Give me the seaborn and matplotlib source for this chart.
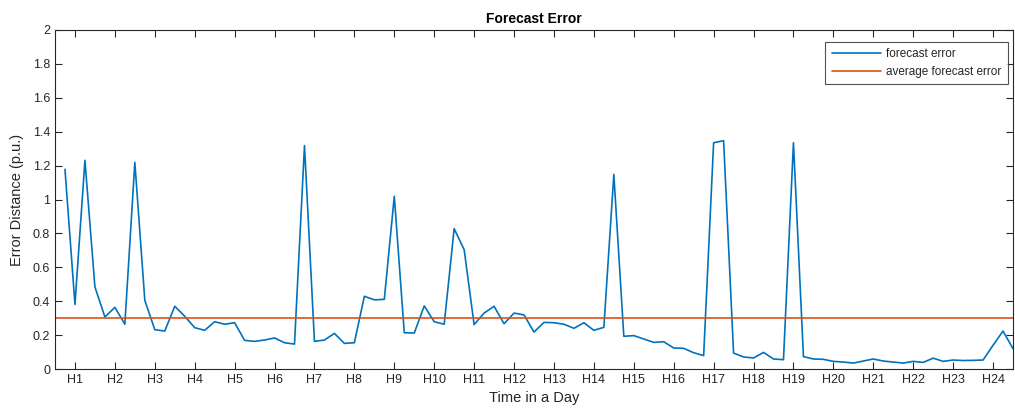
import numpy as np
import pandas as pd
import matplotlib
matplotlib.use("Agg")
import matplotlib.pyplot as plt
import seaborn as sns

# Quarter-hour forecast error over one day (x in hours, H1 = 1)
hours = np.arange(0.75, 24.5 + 0.001, 0.25)
forecast_error = [
    1.178, 0.381, 1.231, 0.484, 0.307, 0.364, 0.264, 1.219,
    0.405, 0.232, 0.224, 0.370, 0.311, 0.244, 0.228, 0.279,
    0.264, 0.273, 0.169, 0.163, 0.171, 0.183, 0.155, 0.147,
    1.318, 0.163, 0.171, 0.210, 0.151, 0.155, 0.429, 0.408,
    0.411, 1.019, 0.214, 0.212, 0.372, 0.279, 0.264, 0.828,
    0.704, 0.262, 0.330, 0.370, 0.267, 0.330, 0.319, 0.218,
    0.275, 0.273, 0.264, 0.240, 0.273, 0.228, 0.246, 1.148,
    0.193, 0.197, 0.177, 0.157, 0.161, 0.124, 0.122, 0.096,
    0.079, 1.335, 1.347, 0.094, 0.071, 0.065, 0.098, 0.059,
    0.055, 1.335, 0.073, 0.059, 0.057, 0.045, 0.041, 0.035,
    0.047, 0.059, 0.047, 0.041, 0.035, 0.045, 0.039, 0.064,
    0.045, 0.053, 0.050, 0.051, 0.053, 0.140, 0.224, 0.120,
]
average_error = 0.3
hour_ticks = list(range(1, 25))
hour_labels = [f"H{h}" for h in hour_ticks]
y_ticks = [0, 0.2, 0.4, 0.6, 0.8, 1, 1.2, 1.4, 1.6, 1.8, 2]
y_labels = ["0", "0.2", "0.4", "0.6", "0.8", "1", "1.2", "1.4", "1.6", "1.8", "2"]

df = pd.DataFrame({"hour": hours, "error": forecast_error})
avg_df = pd.DataFrame({"hour": [0.5, 24.5], "error": [average_error, average_error]})

sns.set_style("white")
plt.rcParams["font.family"] = ["Liberation Sans", "DejaVu Sans"]

fig = plt.figure(figsize=(10.15, 4.18), dpi=100)
ax = fig.add_axes([55 / 1015, 49 / 418, 958 / 1015, 339 / 418])

sns.lineplot(data=df, x="hour", y="error", ax=ax, color="#0072BD",
             linewidth=1.2, label="forecast error")
sns.lineplot(data=avg_df, x="hour", y="error", ax=ax, color="#D95319",
             linewidth=1.2, label="average forecast error")

ax.set_xlim(0.5, 24.5)
ax.set_ylim(0, 2)
ax.set_xticks(hour_ticks)
ax.set_xticklabels(hour_labels)
ax.set_yticks(y_ticks)
ax.set_yticklabels(y_labels)

axis_color = "#262626"
for spine in ax.spines.values():
    spine.set_visible(True)
    spine.set_color(axis_color)
    spine.set_linewidth(0.8)
ax.tick_params(direction="in", length=5, width=0.8, color=axis_color,
               labelcolor=axis_color, labelsize=9,
               top=True, right=True, bottom=True, left=True)

ax.set_title("Forecast Error", fontsize=10, fontweight="bold",
             color="black", pad=5)
ax.set_xlabel("Time in a Day", fontsize=10.5, color=axis_color, labelpad=4)
ax.set_ylabel("Error Distance (p.u.)", fontsize=10.5, color=axis_color,
              labelpad=6)

leg = ax.legend(loc="upper right", bbox_to_anchor=(0.9945, 0.965),
                fontsize=8.5, frameon=True, fancybox=False,
                borderpad=0.55, handlelength=4.2, labelspacing=0.45,
                handletextpad=0.4, borderaxespad=0)
leg.get_frame().set_edgecolor(axis_color)
leg.get_frame().set_linewidth(0.8)

fig.savefig("out.png", dpi=100)
